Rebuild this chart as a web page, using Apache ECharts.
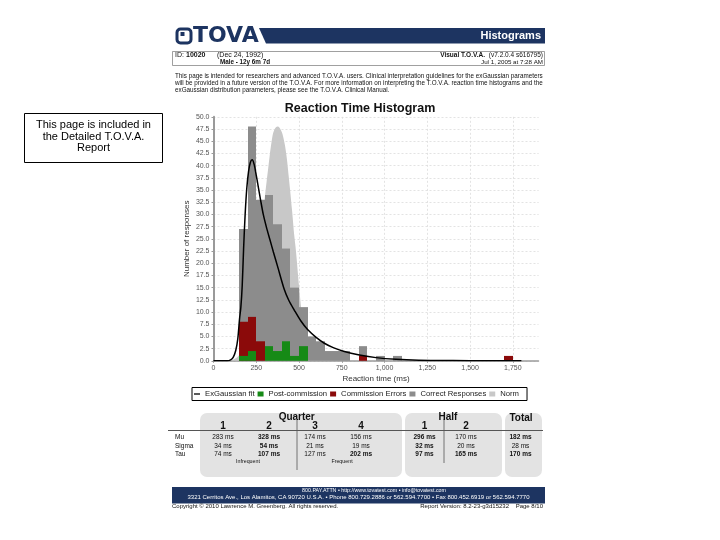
<!DOCTYPE html>
<html>
<head>
<meta charset="utf-8">
<script src="https://cdn.jsdelivr.net/npm/echarts@6/dist/echarts.min.js"></script>
<style>
html,body{margin:0;padding:0;background:#fff;}
#chart{width:720px;height:540px;}
</style>
</head>
<body>
<div id="chart"></div>
<script>
// ---------- data ----------
const binWidth = 50;
const binStarts = [150, 200, 250, 300, 350, 400, 450, 500, 550, 600, 650, 700, 750, 850, 950, 1050, 1700];
const correctCounts = [27, 48, 33, 34, 28, 23, 15, 11, 5, 4, 2, 2, 2, 3, 1, 1, 0];
const commissionCounts = [8, 9, 4, 0, 0, 0, 0, 0, 0, 0, 0, 0, 0, 1, 0, 0, 1];
const postCommissionCounts = [1, 2, 0, 3, 2, 4, 1, 3, 0, 0, 0, 0, 0, 0, 0, 0, 0];
const normCurve = [[100,0],[125,0.4],[150,1.2],[175,3],[200,6],[225,11],[250,18],[275,26],[300,33.5],[320,39.5],[340,45],[355,47.3],[375,48],[395,47.2],[410,45.5],[425,42.5],[440,37.7],[459,30.9],[473,25.4],[482,22.5],[501,15],[515,10],[530,6],[550,3.5],[600,1.2],[650,0.4],[700,0]];
const exGaussFit = [[0,0],[80,0],[100,0.2],[115,0.7],[130,2.1],[142,4.5],[152,8.5],[160,11],[168,15.5],[176,23],[185,30],[195,35.5],[205,38.8],[215,40.6],[226,41.2],[238,40.2],[250,38],[262,35.6],[275,33],[291,30],[310,27.3],[330,24.8],[350,22.3],[375,19.3],[414,14.6],[440,12.4],[472,10.4],[510,8.2],[550,6.4],[600,4.8],[648,3.6],[700,2.7],[765,1.9],[853,1.2],[950,0.65],[1067,0.3],[1200,0.12],[1400,0.04],[1600,0.01],[1800,0]];
const xTicksMax = 1900;
const yTicksMax = 50;

const tableCols = ['1','2','3','4','1','2'];
const rowNames = ['Mu','Sigma','Tau'];
const muVals = ['283 ms','328 ms','174 ms','156 ms','296 ms','170 ms','182 ms'];
const sigmaVals = ['34 ms','54 ms','21 ms','19 ms','32 ms','20 ms','28 ms'];
const tauVals = ['74 ms','107 ms','127 ms','202 ms','97 ms','165 ms','170 ms'];
const boldMu = [false,true,false,false,true,false,true];
const boldSigma = [false,true,false,false,true,false,false];
const boldTau = [false,true,false,true,true,true,true];

// ---------- helpers ----------
const NAVY = '#1d3461';
const FF = '"Liberation Sans", Arial, sans-serif';
function binData(counts){
  const out = [];
  binStarts.forEach((b,i)=>{ if(counts[i]>0) out.push([b, counts[i]]); });
  return out;
}
function barRender(color){
  return function(params, api){
    const x0 = api.value(0), y = api.value(1);
    const p0 = api.coord([x0, y]);
    const p1 = api.coord([x0 + binWidth, 0]);
    const xa = Math.round(p0[0]), xb = Math.round(p1[0]);
    return {type:'rect', shape:{x:xa, y:p0[1], width:xb-xa, height:p1[1]-p0[1]}, style:{fill:color, stroke:null, lineWidth:0}};
  };
}
function txt(text, x, y, size, opts){
  opts = opts || {};
  return {type:'text', silent:true, z:10, style:{
    text:text, x:x, y:y,
    font:(opts.bold?'bold ':'') + size + 'px ' + (opts.family||FF),
    fill:opts.fill||'#111', textAlign:opts.align||'left', textVerticalAlign:'middle'
  }};
}

const graphics = [];
// left note box
graphics.push({type:'rect', silent:true, shape:{x:24.5,y:113.5,width:138,height:49}, style:{fill:'#fff',stroke:'#000',lineWidth:1}});
graphics.push(txt('This page is included in', 93.5, 125, 11, {align:'center', fill:'#000'}));
graphics.push(txt('the Detailed T.O.V.A.', 93.5, 136.5, 11, {align:'center', fill:'#000'}));
graphics.push(txt('Report', 93.5, 148, 11, {align:'center', fill:'#000'}));
// logo
graphics.push({type:'rect', silent:true, shape:{x:177,y:29,width:14,height:14,r:3.5}, style:{fill:'none',stroke:NAVY,lineWidth:3}});
graphics.push({type:'rect', silent:true, shape:{x:180.5,y:32,width:4,height:4}, style:{fill:NAVY}});
graphics.push(txt('TOVA', 193, 36.5, 22, {bold:true, family:'"DejaVu Sans", sans-serif', fill:NAVY}));
graphics.push({type:'polygon', silent:true, shape:{points:[[259,28],[545,28],[545,43.5],[266,43.5]]}, style:{fill:NAVY}});
graphics.push(txt('Histograms', 541, 36, 11, {bold:true, fill:'#fff', align:'right'}));
// ID box
graphics.push({type:'rect', silent:true, shape:{x:172.5,y:51.5,width:372,height:14}, style:{fill:'none',stroke:'#777',lineWidth:0.7}});
graphics.push(txt('ID:', 175, 55.5, 7));
graphics.push(txt('10020', 186, 55.5, 7, {bold:true}));
graphics.push(txt('(Dec 24, 1992)', 217, 55.5, 7));
graphics.push(txt('Male - 12y 6m 7d', 220, 62, 6.3, {bold:true}));
graphics.push(txt('(v7.2.0.4 s616795)', 543, 55.5, 6.5, {align:'right'}));
graphics.push(txt('Visual T.O.V.A.', 485, 55.5, 6.5, {bold:true, align:'right'}));
graphics.push(txt('Jul 1, 2005 at 7:28 AM', 543, 62, 6.2, {align:'right'}));
// paragraph
graphics.push(txt('This page is intended for researchers and advanced T.O.V.A. users. Clinical interpretation guidelines for the exGaussian parameters', 175, 76.7, 6.3));
graphics.push(txt('will be provided in a future version of the T.O.V.A. For more information on interpreting the T.O.V.A. reaction time histograms and the', 175, 83.5, 6.3));
graphics.push(txt('exGaussian distribution parameters, please see the T.O.V.A. Clinical Manual.', 175, 90.5, 6.3));
// table panels
graphics.push({type:'rect', silent:true, shape:{x:200,y:413,width:202,height:64,r:7}, style:{fill:'#e3e3e3'}});
graphics.push({type:'rect', silent:true, shape:{x:405,y:413,width:97,height:64,r:7}, style:{fill:'#e3e3e3'}});
graphics.push({type:'rect', silent:true, shape:{x:505,y:413,width:37,height:64,r:7}, style:{fill:'#e3e3e3'}});
graphics.push(txt('Quarter', 296.7, 417.5, 10, {bold:true, align:'center'}));
graphics.push(txt('Half', 448, 417.5, 10, {bold:true, align:'center'}));
graphics.push(txt('Total', 521, 418.5, 10, {bold:true, align:'center'}));
const colX = [223, 269, 315, 361, 424.5, 466, 520.5];
tableCols.forEach((c,i)=>graphics.push(txt(c, colX[i], 426.5, 10, {bold:true, align:'center'})));
graphics.push({type:'line', silent:true, shape:{x1:168,y1:430.5,x2:543,y2:430.5}, style:{stroke:'#555',lineWidth:1}});
graphics.push({type:'line', silent:true, shape:{x1:297,y1:420,x2:297,y2:470}, style:{stroke:'#555',lineWidth:0.8}});
graphics.push({type:'line', silent:true, shape:{x1:444,y1:419,x2:444,y2:463}, style:{stroke:'#555',lineWidth:0.8}});
const rowY = [436.8, 445.8, 453.8];
const rowVals = [muVals, sigmaVals, tauVals];
const rowBold = [boldMu, boldSigma, boldTau];
rowNames.forEach((r,ri)=>{
  graphics.push(txt(r, 175, rowY[ri], 6.5));
  rowVals[ri].forEach((v,ci)=>graphics.push(txt(v, colX[ci], rowY[ri], 6.5, {align:'center', bold:rowBold[ri][ci]})));
});
graphics.push(txt('Infrequent', 248, 461.3, 5.3, {align:'center'}));
graphics.push(txt('Frequent', 342, 461.3, 5.3, {align:'center'}));
// footer
graphics.push({type:'rect', silent:true, shape:{x:172,y:487,width:373,height:16.5}, style:{fill:NAVY}});
graphics.push(txt('800.PAY.ATTN \u2022 http://www.tovatest.com \u2022 info@tovatest.com', 374, 490.8, 5.3, {align:'center', fill:'#fff'}));
graphics.push(txt('3321 Cerritos Ave., Los Alamitos, CA 90720 U.S.A. \u2022 Phone 800.729.2886 or 562.594.7700 \u2022 Fax 800.452.6919 or 562.594.7770', 358.5, 497.8, 6, {align:'center', fill:'#fff'}));
graphics.push(txt('Copyright \u00a9 2010 Lawrence M. Greenberg. All rights reserved.', 172, 506, 6));
graphics.push(txt('Report Version: 8.2-23-g3d15232    Page 8/10', 543, 506, 6, {align:'right'}));

const chart = echarts.init(document.getElementById('chart'), null, {renderer:'canvas'});
chart.setOption({
  animation:false,
  backgroundColor:'#fff',
  title:{text:'Reaction Time Histogram', left:'center', top:97,
    textStyle:{fontFamily:FF, fontSize:12.5, fontWeight:'bold', color:'#111'}},
  legend:{
    left:192, top:387.5, orient:'horizontal',
    padding:[2.5,8,2.5,2], itemGap:3, itemWidth:6, itemHeight:5,
    borderColor:'#000', borderWidth:1,
    textStyle:{fontFamily:FF, fontSize:7.7, color:'#222'},
    selectedMode:false,
    data:[
      {name:'ExGaussian fit', icon:'path://M0,0H6V1.3H0Z', itemStyle:{color:'#000'}},
      {name:'Post-commission', icon:'rect'},
      {name:'Commission Errors', icon:'rect'},
      {name:'Correct Responses', icon:'rect'},
      {name:'Norm', icon:'rect'}
    ]
  },
  grid:{left:213.5, top:116.8, width:325, height:244},
  xAxis:{
    type:'value', min:0, max:xTicksMax, interval:250,
    name:'Reaction time (ms)', nameLocation:'middle', nameGap:14,
    nameTextStyle:{fontFamily:FF, fontSize:8, color:'#333'},
    axisLine:{show:true, lineStyle:{color:'#9a9a9a', width:1.5}},
    axisTick:{show:true, length:2, lineStyle:{color:'#9a9a9a'}},
    axisLabel:{showMaxLabel:false, margin:4, fontFamily:FF, fontSize:7, color:'#555',
      formatter:v=>String(v).replace(/\B(?=(\d{3})+(?!\d))/g, ',')},
    splitLine:{show:true, showMaxLine:false, lineStyle:{color:'#dcdcdc', width:0.8, type:[2,2]}}
  },
  yAxis:{
    type:'value', min:0, max:yTicksMax, interval:2.5,
    name:'Number of responses', nameLocation:'middle', nameGap:23, nameRotate:90,
    nameTextStyle:{fontFamily:FF, fontSize:8, color:'#333'},
    axisLine:{show:true, lineStyle:{color:'#9a9a9a', width:2}},
    axisTick:{show:true, length:2, lineStyle:{color:'#9a9a9a'}},
    axisLabel:{margin:4, fontFamily:FF, fontSize:7, color:'#555', formatter:v=>v.toFixed(1)},
    splitLine:{show:true, lineStyle:{color:'#dcdcdc', width:0.8, type:[2,2]}}
  },
  series:[
    {name:'Norm', type:'line', data:normCurve, smooth:0.4, symbol:'none', z:1,
      itemStyle:{color:'#c8c8c8'}, lineStyle:{width:0, color:'#c8c8c8'}, areaStyle:{color:'#c8c8c8', opacity:1}},
    {name:'Correct Responses', type:'custom', z:2, data:binData(correctCounts), encode:{x:0,y:1},
      itemStyle:{color:'#8c8c8c'}, renderItem:barRender('#8c8c8c')},
    {name:'Commission Errors', type:'custom', z:3, data:binData(commissionCounts), encode:{x:0,y:1},
      itemStyle:{color:'#8b0a0a'}, renderItem:barRender('#8b0a0a')},
    {name:'Post-commission', type:'custom', z:4, data:binData(postCommissionCounts), encode:{x:0,y:1},
      itemStyle:{color:'#168a16'}, renderItem:barRender('#168a16')},
    {name:'ExGaussian fit', type:'line', data:exGaussFit, smooth:0.3, symbol:'none', z:5,
      itemStyle:{color:'#000'}, lineStyle:{color:'#000', width:1.5}}
  ],
  graphic:graphics
});
</script>
</body>
</html>
